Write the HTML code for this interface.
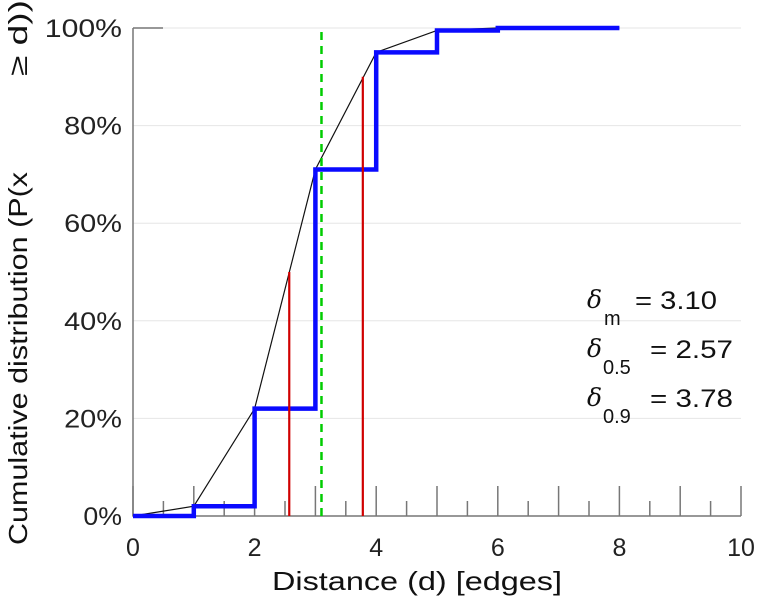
<!DOCTYPE html>
<html><head><meta charset="utf-8"><style>
body{margin:0;background:#fff}
svg{display:block;font-family:"Liberation Sans","DejaVu Sans",sans-serif}
</style></head><body>
<svg id="c" width="759" height="600"></svg>
<script>
const steps=[0,1,2,3,4,5,6,7,8];
const stepVals=[0,2,22,71,95,99.5,100,100,100];
const xTicks=[0,2,4,6,8,10];
const yTicks=[0,20,40,60,80,100];
const redX=[2.57,3.78];
const redY=[50,90];
const meanX=3.10;
const NS="http://www.w3.org/2000/svg";
const svg=document.getElementById('c');
const X=v=>133+v*60.8, Y=v=>516-v*4.88;
function mk(t,a,p){const e=document.createElementNS(NS,t);for(const k in a)e.setAttribute(k,a[k]);(p||svg).appendChild(e);return e;}
yTicks.forEach(v=>{
const g=mk('line',{x1:133,x2:741,y1:Y(v),y2:Y(v),stroke:'#e6e6e6','stroke-width':1});


const s=String(v)+'%';
const l=mk('text',{x:122,y:Y(v)+9,'text-anchor':'end','font-size':25,fill:'#222',textLength:s.length*19.3,lengthAdjust:'spacingAndGlyphs'});l.textContent=s;


});
const tt=mk('line',{x1:133,x2:163,y1:Y(100),y2:Y(100),stroke:'#777','stroke-width':1.5});


for(let v=0;v<=10;v+=0.5){
const t=mk('line',{x1:X(v),x2:X(v),y1:516,y2:516-(v%1===0?30:15),stroke:'#777','stroke-width':1.5});


}
xTicks.forEach(v=>{const l=mk('text',{x:X(v),y:556,'text-anchor':'middle','font-size':25,fill:'#222'});l.textContent=v;

});
const ax=mk('path',{d:`M133 28V516H741`,fill:'none',stroke:'#777','stroke-width':1.5});


const bl=mk('polyline',{points:steps.map((s,i)=>X(s)+','+Y(stepVals[i])).join(' '),fill:'none',stroke:'#111','stroke-width':1.2});


let d='';steps.forEach((s,i)=>{if(i===0)d+=`M${X(s)} ${Y(stepVals[i])}`;else d+=`H${X(s)}V${Y(stepVals[i])}`;});
const st=mk('path',{d:d,fill:'none',stroke:'#0a0aff','stroke-width':4.5});


redX.forEach((v,i)=>{const r=mk('line',{x1:X(v),x2:X(v),y1:516,y2:Y(redY[i]),stroke:'#d00000','stroke-width':2.2});

});
const gr=mk('line',{x1:X(meanX),x2:X(meanX),y1:516,y2:28,stroke:'#00cc00','stroke-width':2.5,'stroke-dasharray':'8 6'});


</script>
<svg width="759" height="600" style="position:absolute;left:0;top:0;font-family:'Liberation Sans','DejaVu Sans',sans-serif">
<text x="272" y="590" font-size="26" fill="#111" textLength="290" lengthAdjust="spacingAndGlyphs">Distance (d) [edges]</text>
<g transform="translate(27,0) rotate(-90)">
<text x="-545" y="0" font-size="26" fill="#111" textLength="373" lengthAdjust="spacingAndGlyphs">Cumulative distribution (P(x</text>
<text x="-76" y="0" font-size="26" fill="#111" textLength="76" lengthAdjust="spacingAndGlyphs">≥ d))</text>
</g>
<g font-size="25" fill="#111">
<g>
<text x="587" y="308" font-style="italic" font-family="DejaVu Serif,serif">δ</text>
<text x="604" y="325" font-size="20">m</text>
<text x="635" y="309" textLength="82" lengthAdjust="spacingAndGlyphs">= 3.10</text>
</g>
<g>
<text x="587" y="357" font-style="italic" font-family="DejaVu Serif,serif">δ</text>
<text x="603" y="374" font-size="20">0.5</text>
<text x="650" y="358" textLength="83" lengthAdjust="spacingAndGlyphs">= 2.57</text>
</g>
<g>
<text x="587" y="406" font-style="italic" font-family="DejaVu Serif,serif">δ</text>
<text x="603" y="423" font-size="20">0.9</text>
<text x="650" y="407" textLength="83" lengthAdjust="spacingAndGlyphs">= 3.78</text>
</g>
</g>
</svg>
</body></html>
